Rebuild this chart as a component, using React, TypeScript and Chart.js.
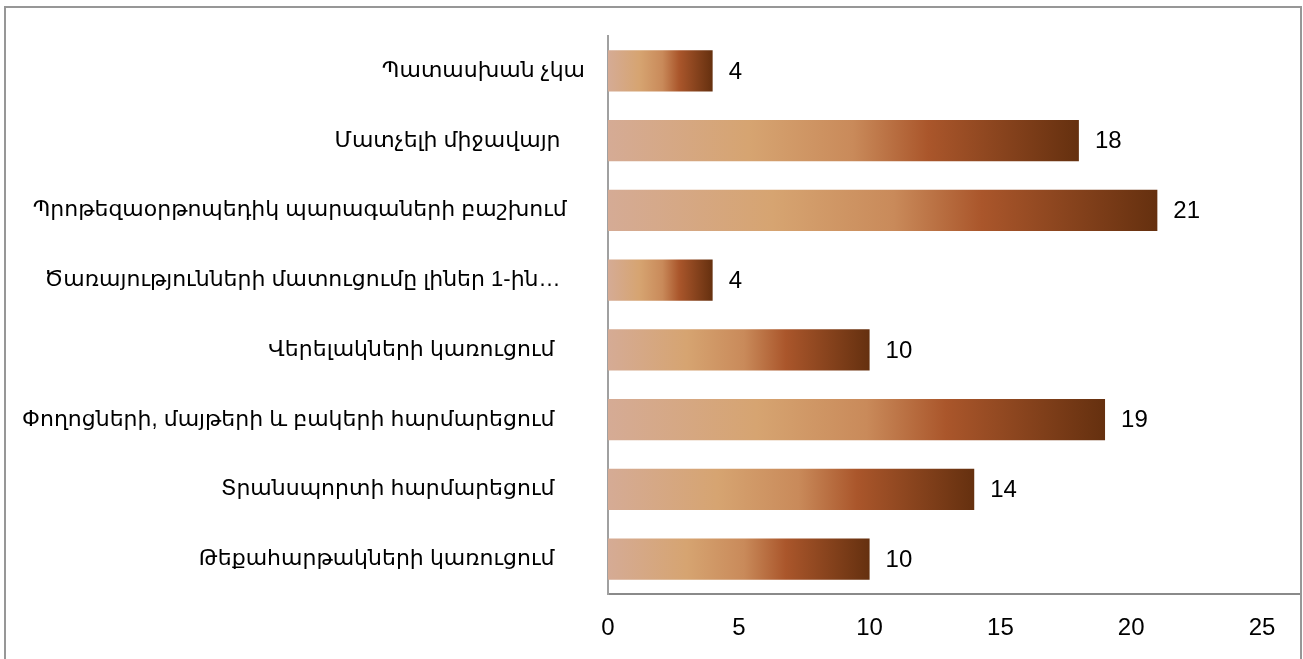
import React, { useEffect, useRef } from "react";
import { Chart, registerables } from "chart.js";

Chart.register(...registerables);

// Category labels (trailing spaces as in the source workbook)
const categories: string[] = [
  "Պատասխան չկա",
  "Մատչելի միջավայր    ",
  "Պրոթեզաօրթոպեդիկ պարագաների բաշխում   ",
  "Ծառայությունների մատուցումը լիներ 1-ին…    ",
  "Վերելակների կառուցում     ",
  "Փողոցների, մայթերի և բակերի հարմարեցում     ",
  "Տրանսպորտի հարմարեցում     ",
  "Թեքահարթակների կառուցում     ",
];
const values: number[] = [4, 18, 21, 4, 10, 19, 14, 10];
const xTicks: number[] = [0, 5, 10, 15, 20, 25];

const FONT = "'Liberation Sans', Arial, 'DejaVu Sans', sans-serif";
const NUM_SIZE = 24;
const CAT_SIZE = 22;

const gradientStops: [number, string][] = [
  [0, "#D5AB95"],
  [0.3, "#D6A471"],
  [0.52, "#C98A5A"],
  [0.68, "#AA562B"],
  [1, "#65300F"],
];

const decor = {
  id: "decor",
  afterDatasetsDraw(chart: any) {
    const ctx = chart.ctx as CanvasRenderingContext2D;
    const meta = chart.getDatasetMeta(0);
    ctx.save();
    ctx.fillStyle = "#000";
    ctx.font = `${NUM_SIZE}px ${FONT}`;
    ctx.textAlign = "left";
    ctx.textBaseline = "middle";
    meta.data.forEach((el: any, i: number) => {
      ctx.fillText(String(values[i]), el.x + 16, el.y + 1);
    });
    ctx.restore();
  },
  afterDraw(chart: any) {
    const ctx = chart.ctx as CanvasRenderingContext2D;
    const area = chart.chartArea;
    ctx.save();
    // x-axis line extends to the frame
    ctx.strokeStyle = "#8a8a8a";
    ctx.lineWidth = 2;
    ctx.beginPath();
    ctx.moveTo(area.right - 2, Math.round(area.bottom));
    ctx.lineTo(1302, Math.round(area.bottom));
    ctx.stroke();
    // outer frame
    ctx.strokeStyle = "#979797";
    ctx.lineWidth = 2;
    ctx.strokeRect(5, 7, 1296, 700);
    ctx.restore();
  },
};

export default function App() {
  const ref = useRef<HTMLCanvasElement>(null);

  useEffect(() => {
    const canvas = ref.current;
    if (!canvas) return;
    const chart = new Chart(canvas, {
      type: "bar",
      data: {
        labels: categories,
        datasets: [
          {
            data: values,
            backgroundColor: (c: any) => {
              const ch = c.chart;
              const xs = ch.scales && ch.scales.x;
              if (!xs || c.raw === undefined) return "#B56A3C";
              const x0 = xs.getPixelForValue(0);
              const x1 = xs.getPixelForValue(c.raw as number);
              if (!isFinite(x0) || !isFinite(x1) || x1 === x0) return "#B56A3C";
              const g = ch.ctx.createLinearGradient(x0, 0, x1, 0);
              gradientStops.forEach(([o, col]) => g.addColorStop(o, col));
              return g;
            },
            borderWidth: 0,
            barPercentage: 0.59,
            categoryPercentage: 1,
          },
        ],
      },
      options: {
        indexAxis: "y",
        responsive: false,
        animation: false,
        layout: { padding: { left: 0, right: 41, top: 36, bottom: 0 } },
        plugins: {
          legend: { display: false },
          tooltip: { enabled: false },
        },
        scales: {
          x: {
            min: 0,
            max: 25,
            afterBuildTicks: (s: any) => {
              s.ticks = xTicks.map((v) => ({ value: v }));
            },
            afterFit: (s: any) => {
              s.height = 65;
              s.paddingLeft = 0;
              s.paddingRight = 0;
            },
            grid: { display: false, drawTicks: false },
            border: { display: true, color: "#8a8a8a", width: 2 },
            ticks: {
              padding: 20,
              color: "#000",
              font: { family: FONT, size: NUM_SIZE },
              maxRotation: 0,
            },
          },
          y: {
            afterFit: (s: any) => {
              s.width = 608;
              s.paddingTop = 0;
              s.paddingBottom = 0;
            },
            grid: { display: false, drawTicks: false },
            border: { display: true, color: "#a0a0a0", width: 2 },
            ticks: {
              padding: 23,
              autoSkip: false,
              color: "#000",
              font: { family: FONT, size: CAT_SIZE },
            },
          },
        },
      },
      plugins: [decor],
    });
    return () => chart.destroy();
  }, []);

  return (
    <div style={{ position: "absolute", left: 0, top: 0, width: 1303, height: 659, background: "#fff" }}>
      <canvas ref={ref} width={1303} height={659} style={{ display: "block" }} />
    </div>
  );
}
